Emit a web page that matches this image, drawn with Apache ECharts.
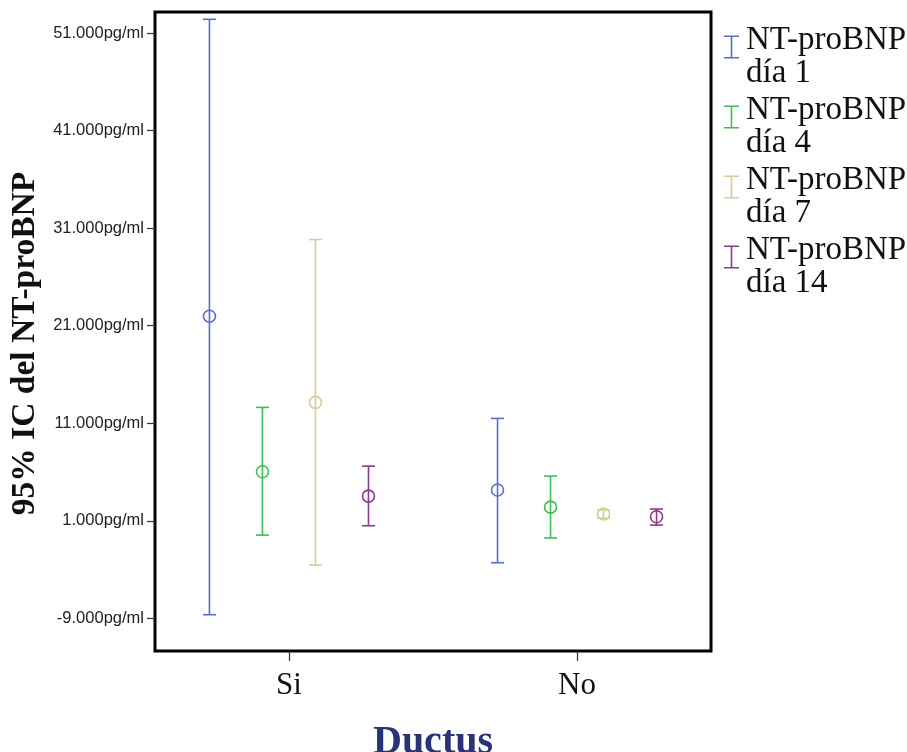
<!DOCTYPE html>
<html>
<head>
<meta charset="utf-8">
<script src="https://cdn.jsdelivr.net/npm/echarts@6/dist/echarts.min.js"></script>
<style>
  html, body { margin: 0; padding: 0; background: #fff; }
  #chart { width: 907px; height: 752px; }
</style>
</head>
<body>
<div id="chart"></div>
<script>
// Groups on the x axis
const categories = ['Si', 'No'];

// Series names (one per sampling day)
const seriesNames = ['NT-proBNP día 1', 'NT-proBNP día 4', 'NT-proBNP día 7', 'NT-proBNP día 14'];

// 95% CI per group: [lower, mean, upper] in pg/ml, order follows categories
const dia1  = [[-8630, 21970, 52400], [-3300, 4150, 11490]];
const dia4  = [[-470, 6020, 12620], [-770, 2400, 5580]];
const dia7  = [[-3540, 13130, 29830], [1250, 1690, 2100]];
const dia14 = [[490, 3530, 6600], [560, 1410, 2200]];

// Y axis tick values
const yTicks = [-9000, 1000, 11000, 21000, 31000, 41000, 51000];

const seriesData = [dia1, dia4, dia7, dia14];
const colors = ['#5a6fc2', '#3fbb57', '#d5ce97', '#8a3a8c'];

function fmtThousands(v) {
  const neg = v < 0;
  const s = Math.abs(v).toString().replace(/\B(?=(\d{3})+(?!\d))/g, '.');
  return (neg ? '-' : '') + s + 'pg/ml';
}

// Draws one error bar (whiskers + caps + hollow mean marker)
function renderErrorBar(params, api) {
  const cat = api.value(0);
  const lo = api.value(1), mid = api.value(2), hi = api.value(3);
  const unit = api.size([1, 0])[0];
  const dx = (params.seriesIndex - 1.5) * 0.184 * unit;
  const pLo = api.coord([cat, lo]);
  const pMid = api.coord([cat, mid]);
  const pHi = api.coord([cat, hi]);
  const x = pMid[0] + dx;
  const cap = 6.5;
  const r = 6;
  const color = colors[params.seriesIndex];
  const stroke = { stroke: color, lineWidth: 1.6, fill: null };
  return {
    type: 'group',
    children: [
      { type: 'line', shape: { x1: x, y1: pLo[1], x2: x, y2: pHi[1] }, style: stroke },
      { type: 'line', shape: { x1: x - cap, y1: pHi[1], x2: x + cap, y2: pHi[1] }, style: stroke },
      { type: 'line', shape: { x1: x - cap, y1: pLo[1], x2: x + cap, y2: pLo[1] }, style: stroke },
      { type: 'circle', shape: { cx: x, cy: pMid[1], r: r }, style: { stroke: color, lineWidth: 1.6, fill: 'rgba(0,0,0,0)' } }
    ]
  };
}

const chart = echarts.init(document.getElementById('chart'), null, { renderer: 'canvas' });

// Legend glyph: an error-bar "I" sitting in the upper part of its box
const legendIcon = 'path://M0,0h15v1.6h-15z M6.7,0h1.6v23h-1.6z M0,21.4h15v1.6h-15z M7.45,42.95h0.05v0.05h-0.05z';

const option = {
  backgroundColor: '#fff',
  animation: false,
  color: colors,
  grid: {
    left: 155, right: 196, top: 12, bottom: 101,
    outerBoundsMode: 'none',
    containLabel: false,
    show: true, borderColor: '#000', borderWidth: 3, backgroundColor: '#fff'
  },
  legend: {
    orient: 'vertical',
    left: 719,
    top: 19,
    itemWidth: 15,
    itemHeight: 43,
    itemGap: 4,
    icon: legendIcon,
    formatter: function (name) { return name.replace(' día', '\ndía'); },
    textStyle: {
      fontFamily: 'Liberation Serif',
      fontSize: 33,
      lineHeight: 33,
      color: '#111',
      padding: [0, 0, 0, 2]
    },
    data: seriesNames
  },
  xAxis: {
    type: 'value',
    min: -0.465,
    max: 1.465,
    name: 'Ductus',
    nameLocation: 'middle',
    nameGap: 72,
    nameTextStyle: {
      fontFamily: 'Liberation Serif',
      fontWeight: 'bold',
      fontSize: 40,
      color: '#283378'
    },
    splitLine: { show: false },
    axisLine: { show: false, onZero: false },
    axisTick: {
      show: true,
      length: 10,
      customValues: [0, 1],
      lineStyle: { color: '#333', width: 1.2 }
    },
    axisLabel: {
      customValues: [0, 1],
      margin: 19,
      fontFamily: 'Liberation Serif',
      fontSize: 31,
      color: '#111',
      formatter: function (v) { return categories[Math.round(v)]; }
    }
  },
  yAxis: {
    type: 'value',
    min: -12350,
    max: 53150,
    name: '95% IC del NT-proBNP',
    nameLocation: 'middle',
    nameGap: 112,
    nameTextStyle: {
      fontFamily: 'Liberation Serif',
      fontWeight: 'bold',
      fontSize: 33.5,
      color: '#111',
      padding: [0, 24, 0, 0]
    },
    splitLine: { show: false },
    axisLine: { show: false, onZero: false },
    axisTick: {
      show: true,
      length: 8,
      customValues: yTicks,
      lineStyle: { color: '#333', width: 1.2 }
    },
    axisLabel: {
      customValues: yTicks,
      margin: 11,
      fontFamily: 'Liberation Sans',
      fontSize: 16.5,
      color: '#222',
      formatter: fmtThousands
    }
  },
  series: seriesNames.map(function (name, i) {
    return {
      name: name,
      type: 'custom',
      renderItem: renderErrorBar,
      itemStyle: { color: colors[i] },
      encode: { x: 0, y: [1, 2, 3] },
      data: seriesData[i].map(function (d, c) { return [c, d[0], d[1], d[2]]; }),
      z: 3
    };
  })
};

chart.setOption(option);
</script>
</body>
</html>
